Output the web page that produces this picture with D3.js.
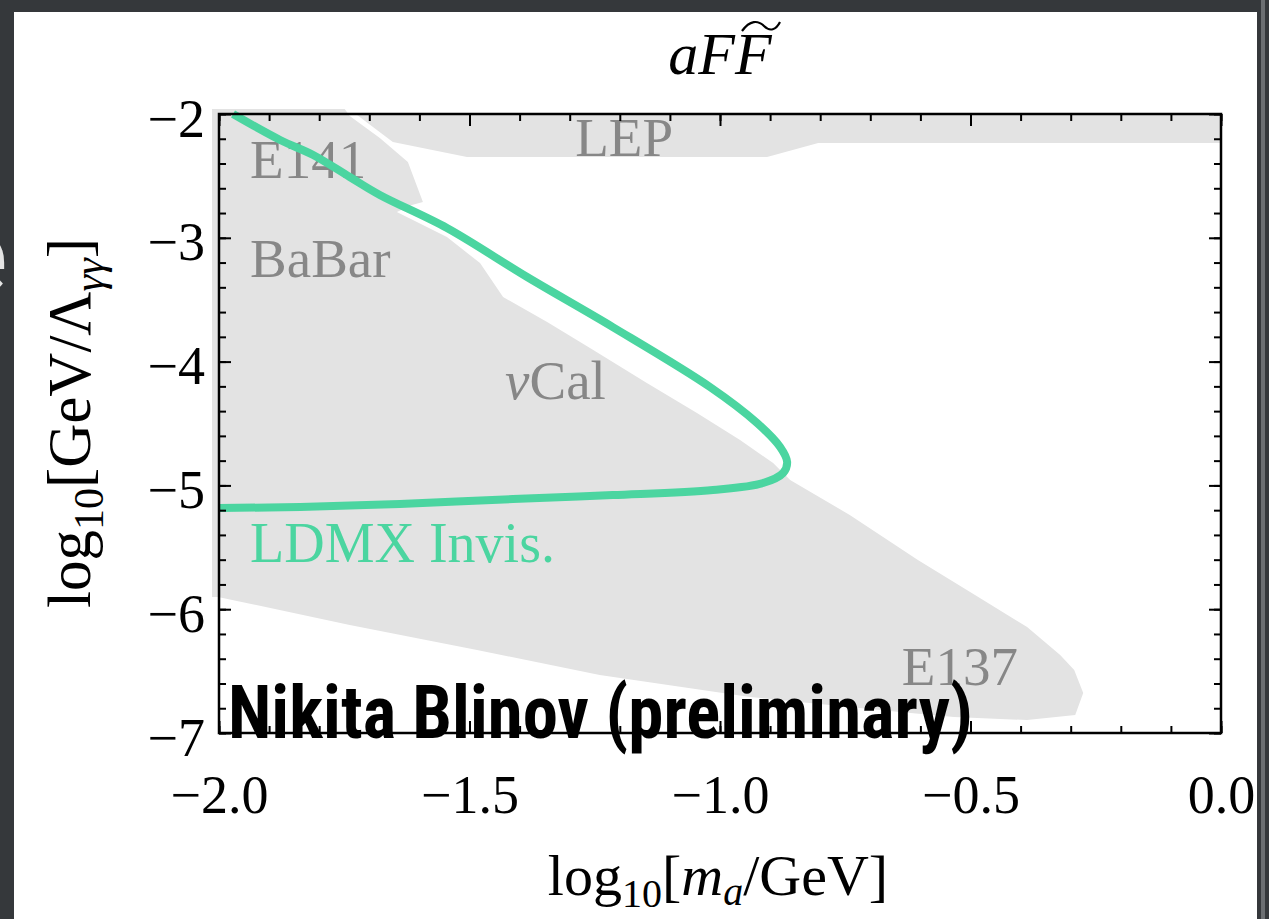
<!DOCTYPE html>
<html>
<head>
<meta charset="utf-8">
<script src="https://cdn.jsdelivr.net/npm/d3@7"></script>
<style>
  body { margin: 0; background: #35383b; }
  svg { display: block; }
</style>
</head>
<body>
<script>
// valeurs (unites log10)
const xTicks = [-2.0, -1.5, -1.0, -0.5, 0.0];
const yTicks = [-2, -3, -4, -5, -6, -7];

// zone exclue E141 / BaBar / nuCal / E137 (contour)
const excludedX = [-2.014, -1.749, -1.739, -1.679, -1.623, -1.593, -1.615, -1.645, -1.545, -1.479,
  -1.433, -1.345, -1.253, -1.146, -1.046, -0.960, -0.894, -0.860, -0.741, -0.605, -0.491, -0.387,
  -0.321, -0.293, -0.275, -0.291, -0.387, -0.533, -0.641, -0.940, -1.240, -1.485, -1.739, -2.002, -2.014];
const excludedY = [-1.960, -1.960, -2.016, -2.194, -2.388, -2.711, -2.735, -2.792, -2.994, -3.204,
  -3.478, -3.680, -3.906, -4.173, -4.415, -4.633, -4.819, -4.956, -5.239, -5.603, -5.885, -6.144,
  -6.370, -6.491, -6.677, -6.855, -6.895, -6.871, -6.830, -6.709, -6.532, -6.330, -6.128, -5.901, -5.901];

// bande LEP
const lepX = [-1.727, 0.0, 0.0, -0.804, -0.906, -1.505, -1.653];
const lepY = [-2.000, -2.000, -2.234, -2.234, -2.347, -2.347, -2.226];

// projection LDMX invisible
const ldmxX = [-1.972, -1.878, -1.812, -1.739, -1.679, -1.545, -1.385, -1.214, -1.020, -0.926,
  -0.880, -0.866, -0.874, -0.914, -1.014, -1.214, -1.413, -1.639, -1.838, -2.000];
const ldmxY = [-2.000, -2.210, -2.331, -2.509, -2.654, -2.921, -3.317, -3.721, -4.205, -4.496,
  -4.690, -4.811, -4.900, -4.981, -5.037, -5.078, -5.110, -5.150, -5.174, -5.183];

// etiquettes des experiences
const labelNames = ["E141", "BaBar", "Cal", "LEP", "E137"];
const labelX = [-1.938, -1.938, -1.429, -1.289, -0.637];
const labelY = [-2.517, -3.317, -4.302, -2.339, -6.612];

const W = 1269, H = 919;
const serif = "'Liberation Serif', 'DejaVu Serif', serif";
const gray = "#e3e3e3", labelGray = "#878787", green = "#4bd5a0";

const svg = d3.select("body").append("svg").attr("width", W).attr("height", H);

// fond de la diapo
svg.append("rect").attr("width", W).attr("height", H).attr("fill", "#35383b");
svg.append("text").attr("x", 7).attr("y", 293).attr("text-anchor", "end")
  .attr("font-family", "Roboto, sans-serif").attr("font-weight", 700)
  .attr("font-size", 110).attr("fill", "#e4e4e4").text("e");
svg.append("rect").attr("x", 14).attr("y", 12).attr("width", 1243).attr("height", H - 12).attr("fill", "#fff");
svg.append("rect").attr("x", 1261).attr("y", 0).attr("width", 4).attr("height", H).attr("fill", "#6c6f72");

const x = d3.scaleLinear().domain([-2, 0]).range([219, 1221]);
const y = d3.scaleLinear().domain([-2, -7]).range([114, 733]);

const area = d3.line().x(d => x(d[0])).y(d => y(d[1]));

svg.append("path")
  .attr("d", area(d3.zip(excludedX, excludedY)) + "Z")
  .attr("fill", gray);
svg.append("path")
  .attr("d", area(d3.zip(lepX, lepY)) + "Z")
  .attr("fill", gray);

// etiquettes grises
const lbl = svg.append("g").attr("font-family", serif).attr("font-size", 55).attr("fill", labelGray);
labelNames.forEach(function(n, i) {
  const t = lbl.append("text").attr("x", x(labelX[i])).attr("y", y(labelY[i]));
  if (n == "Cal") {
    t.append("tspan").attr("font-style", "italic").text("ν");
  }
  t.append("tspan").text(n);
});

// courbe LDMX
svg.append("path")
  .attr("d", d3.line().curve(d3.curveCatmullRom).x(d => x(d[0])).y(d => y(d[1]))(d3.zip(ldmxX, ldmxY)))
  .attr("fill", "none").attr("stroke", green).attr("stroke-width", 8)
  .attr("stroke-linecap", "butt").attr("stroke-linejoin", "round");

svg.append("text").attr("x", x(-1.938)).attr("y", y(-5.619))
  .attr("font-family", serif).attr("font-size", 56).attr("fill", green)
  .text("LDMX Invis.");

// axes, graduations vers l'interieur sur les 4 cotes
const xMinor = d3.range(-2, 0.001, 0.1).map(v => +v.toFixed(2));
const yMinor = d3.range(-2, -7.001, -0.2).map(v => +v.toFixed(2));

function ticks(axis, tr) {
  const g = svg.append("g").attr("transform", tr).call(axis);
  g.select(".domain").remove();
  g.selectAll("line").attr("stroke", "#000").attr("stroke-width", 2);
  return g;
}

ticks(d3.axisBottom(x).tickValues(xMinor).tickSize(-7).tickFormat(""), "translate(0,733)");
ticks(d3.axisTop(x).tickValues(xMinor).tickSize(-7).tickFormat(""), "translate(0,114)");
ticks(d3.axisTop(x).tickValues(xTicks).tickSize(-12).tickFormat(""), "translate(0,114)");
ticks(d3.axisLeft(y).tickValues(yMinor).tickSize(-7).tickFormat(""), "translate(219,0)");
ticks(d3.axisRight(y).tickValues(yMinor).tickSize(-7).tickFormat(""), "translate(1221,0)");
ticks(d3.axisRight(y).tickValues(yTicks).tickSize(-12).tickFormat(""), "translate(1221,0)");

const gx = ticks(d3.axisBottom(x).tickValues(xTicks).tickSize(-12).tickFormat(d3.format(".1f")), "translate(0,733)");
gx.selectAll("text").attr("y", 80).attr("dy", 0)
  .attr("font-family", serif).attr("font-size", 54).attr("fill", "#000");

const gy = ticks(d3.axisLeft(y).tickValues(yTicks).tickSize(-12).tickPadding(14).tickFormat(d3.format("d")), "translate(219,0)");
gy.selectAll("text").attr("dy", 22)
  .attr("font-family", serif).attr("font-size", 54).attr("fill", "#000");

svg.append("rect").attr("x", 219).attr("y", 114).attr("width", 1002).attr("height", 619)
  .attr("fill", "none").attr("stroke", "#000").attr("stroke-width", 2.5);

// titres des axes
const xl = svg.append("text").attr("x", 718).attr("y", 895).attr("text-anchor", "middle")
  .attr("font-family", serif).attr("font-size", 58);
xl.append("tspan").text("log");
xl.append("tspan").attr("font-size", 40).attr("dy", 12).text("10");
xl.append("tspan").attr("dy", -12).text("[");
xl.append("tspan").attr("font-style", "italic").text("m");
xl.append("tspan").attr("font-style", "italic").attr("font-size", 40).attr("dy", 10).text("a");
xl.append("tspan").attr("dy", -10).text("/GeV]");

const yl = svg.append("text").attr("transform", "translate(90,423) rotate(-90)").attr("text-anchor", "middle")
  .attr("font-family", serif).attr("font-size", 61);
yl.append("tspan").text("log");
yl.append("tspan").attr("font-size", 42).attr("dy", 13).text("10");
yl.append("tspan").attr("dy", -13).text("[GeV/Λ");
yl.append("tspan").attr("font-style", "italic").attr("font-size", 42).attr("dy", 13).text("γγ");
yl.append("tspan").attr("dy", -13).text("]");

// titre aF~F (tilde large dessine a la main)
svg.append("text").attr("x", 720).attr("y", 74).attr("text-anchor", "middle")
  .attr("font-family", serif).attr("font-style", "italic").attr("font-size", 60)
  .text("aFF");
svg.append("path")
  .attr("d", "M742,31 C750,20 758,20 764,26 C770,32 776,30 780,22")
  .attr("fill", "none").attr("stroke", "#000").attr("stroke-width", 2.2);

// filigrane
svg.append("text").attr("x", 228).attr("y", 738)
  .attr("font-family", "'Liberation Sans Narrow', 'Roboto Condensed', Roboto, sans-serif")
  .attr("font-weight", 700).attr("font-size", 74).attr("fill", "#000")
  .attr("textLength", 745).attr("lengthAdjust", "spacingAndGlyphs")
  .text("Nikita Blinov (preliminary)");
</script>
</body>
</html>
